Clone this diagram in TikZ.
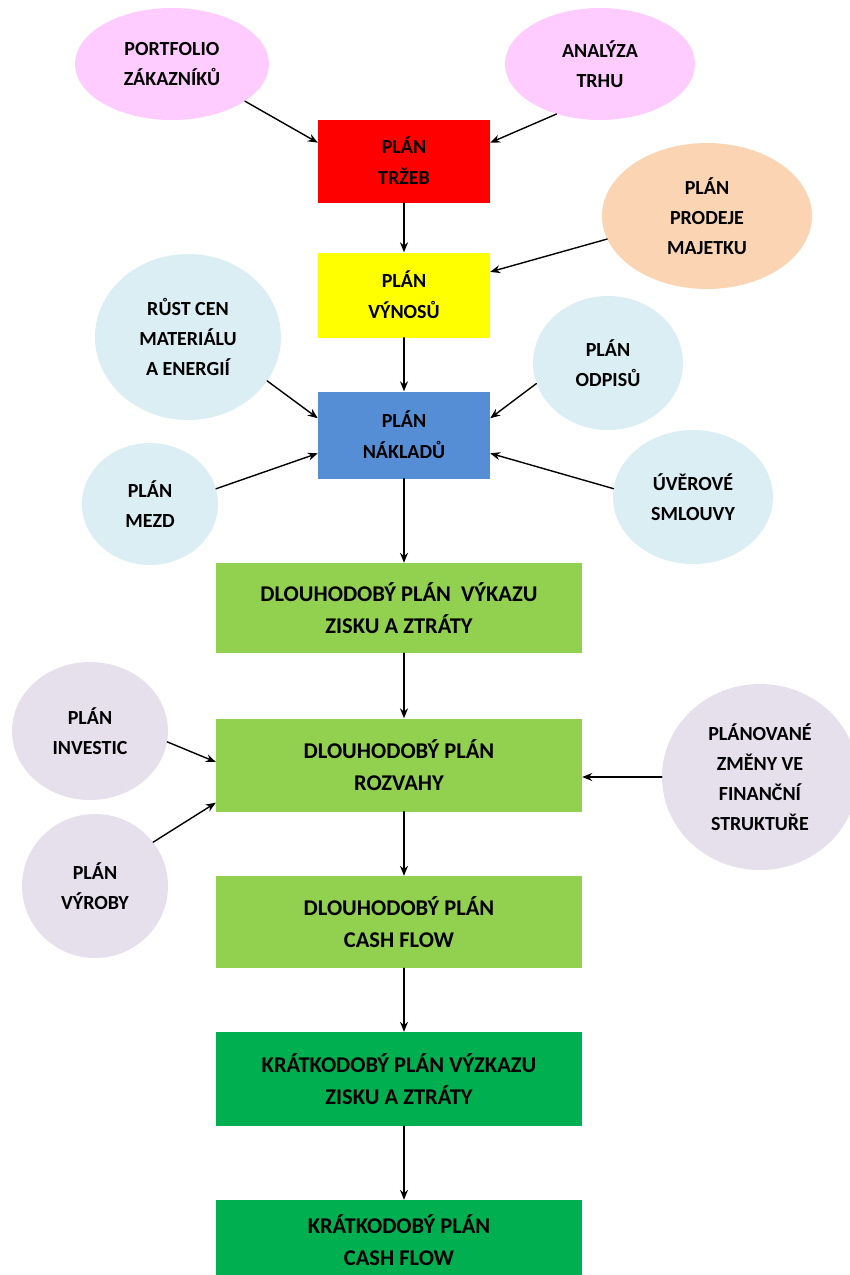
\documentclass[tikz,border=0pt]{standalone}
\usepackage{fontspec}
\setmainfont{Carlito}
\usetikzlibrary{shapes.geometric,arrows.meta}
\definecolor{ruzova}{HTML}{FFCCFF}
\definecolor{broskev}{HTML}{FBD4B4}
\definecolor{svmodra}{HTML}{DBEEF3}
\definecolor{levandule}{HTML}{E5E0EC}
\definecolor{cervena}{HTML}{FF0000}
\definecolor{zluta}{HTML}{FFFF00}
\definecolor{modra}{HTML}{558ED5}
\definecolor{svzelena}{HTML}{92D050}
\definecolor{zelena}{HTML}{00B050}
\begin{document}
\begin{tikzpicture}[x=1pt,y=-1pt,line join=round,line cap=round,
	>={Stealth[length=10pt,width=8pt]},
	elip/.style={ellipse,inner sep=0pt,align=center,font=\bfseries\fontsize{20}{30}\selectfont},
	maly/.style={rectangle,inner sep=0pt,align=center,minimum width=172pt,minimum height=85pt,font=\bfseries\fontsize{20}{31}\selectfont},
	velky/.style={rectangle,inner sep=0pt,align=center,minimum width=366pt,minimum height=92pt,font=\bfseries\fontsize{22.5}{32}\selectfont},
	sip/.style={->,line width=1.4pt}]
	\useasboundingbox (0,0) rectangle (850,1275);
	%Vstupy nahore
	\node[elip,fill=ruzova,minimum width=194pt,minimum height=112pt] (portf) at (172,64) {PORTFOLIO\\ZÁKAZNÍKŮ};
	\node[elip,fill=ruzova,minimum width=190pt,minimum height=112pt] (trh) at (600,64) {ANALÝZA\\TRHU};
	\node[elip,fill=broskev,minimum width=210pt,minimum height=146pt] (prodej) at (707,216) {PLÁN\\PRODEJE\\MAJETKU};
	%Vstupy do nakladu
	\node[elip,fill=svmodra,minimum width=186pt,minimum height=166pt] (rust) at (188,337) {RŮST CEN\\MATERIÁLU\\A ENERGIÍ};
	\node[elip,fill=svmodra,minimum width=150pt,minimum height=134pt] (odpis) at (608,363) {PLÁN\\ODPISŮ};
	\node[elip,fill=svmodra,minimum width=136pt,minimum height=122pt] (mzdy) at (150,504) {PLÁN\\MEZD};
	\node[elip,fill=svmodra,minimum width=160pt,minimum height=134pt] (uver) at (693,497) {ÚVĚROVÉ\\SMLOUVY};
	%Vstupy do rozvahy
	\node[elip,fill=levandule,minimum width=156pt,minimum height=138pt] (invest) at (90,731) {PLÁN\\INVESTIC};
	\node[elip,fill=levandule,minimum width=146pt,minimum height=144pt] (vyroba) at (95,886) {PLÁN\\VÝROBY};
	\node[elip,fill=levandule,minimum width=196pt,minimum height=186pt] (zmeny) at (760,777) {PLÁNOVANÉ\\ZMĚNY VE\\FINANČNÍ\\STRUKTUŘE};
	%Hlavni plany
	\node[maly,fill=cervena,minimum height=83pt] (trzby) at (404,161) {PLÁN\\TRŽEB};
	\node[maly,fill=zluta] (vynosy) at (404,295) {PLÁN\\VÝNOSŮ};
	\node[maly,fill=modra,minimum height=87pt] (naklady) at (404,435) {PLÁN\\NÁKLADŮ};
	\node[velky,fill=svzelena,minimum height=90pt] (dvzz) at (399,608) {DLOUHODOBÝ PLÁN\ \ VÝKAZU\\ZISKU A ZTRÁTY};
	\node[velky,fill=svzelena,minimum height=93pt] (rozvaha) at (399,765) {DLOUHODOBÝ PLÁN\\ROZVAHY};
	\node[velky,fill=svzelena] (dcf) at (399,922) {DLOUHODOBÝ PLÁN\\CASH FLOW};
	\node[velky,fill=zelena,minimum height=94pt] (kvzz) at (399,1079) {KRÁTKODOBÝ PLÁN VÝZKAZU\\ZISKU A ZTRÁTY};
	\node[velky,fill=zelena,minimum height=124pt,text depth=44pt] (kcf) at (399,1262) {KRÁTKODOBÝ PLÁN\\CASH FLOW};
	%Sipky dolu
	\draw[sip] (trzby.south) -- (vynosy.north);
	\draw[sip] (vynosy.south) -- (naklady.north);
	\draw[sip] (naklady.south) -- (naklady.south |- dvzz.north);
	\draw[sip] (dvzz.south -| naklady.south) -- (naklady.south |- rozvaha.north);
	\draw[sip] (rozvaha.south -| naklady.south) -- (naklady.south |- dcf.north);
	\draw[sip] (dcf.south -| naklady.south) -- (naklady.south |- kvzz.north);
	\draw[sip] (kvzz.south -| naklady.south) -- (naklady.south |- kcf.north);
	%Sipky z elips
	\draw[sip] (portf.-27) -- (trzby.168);
	\draw[sip] (trh.229) -- (trzby.12);
	\draw[sip] (prodej.193) -- (vynosy.15);
	\draw[sip] (rust.-29) -- (naklady.169);
	\draw[sip] (odpis.196) -- (naklady.11);
	\draw[sip] (mzdy.13) -- (naklady.192);
	\draw[sip] (uver.174) -- (naklady.348);
	\draw[sip] (invest.-8) -- ([yshift=3pt]rozvaha.west);
	\draw[sip] (vyroba.37) -- ([yshift=9pt]rozvaha.south west);
	\draw[sip] (zmeny.west) -- (zmeny.west -| rozvaha.east);
\end{tikzpicture}
\end{document}
